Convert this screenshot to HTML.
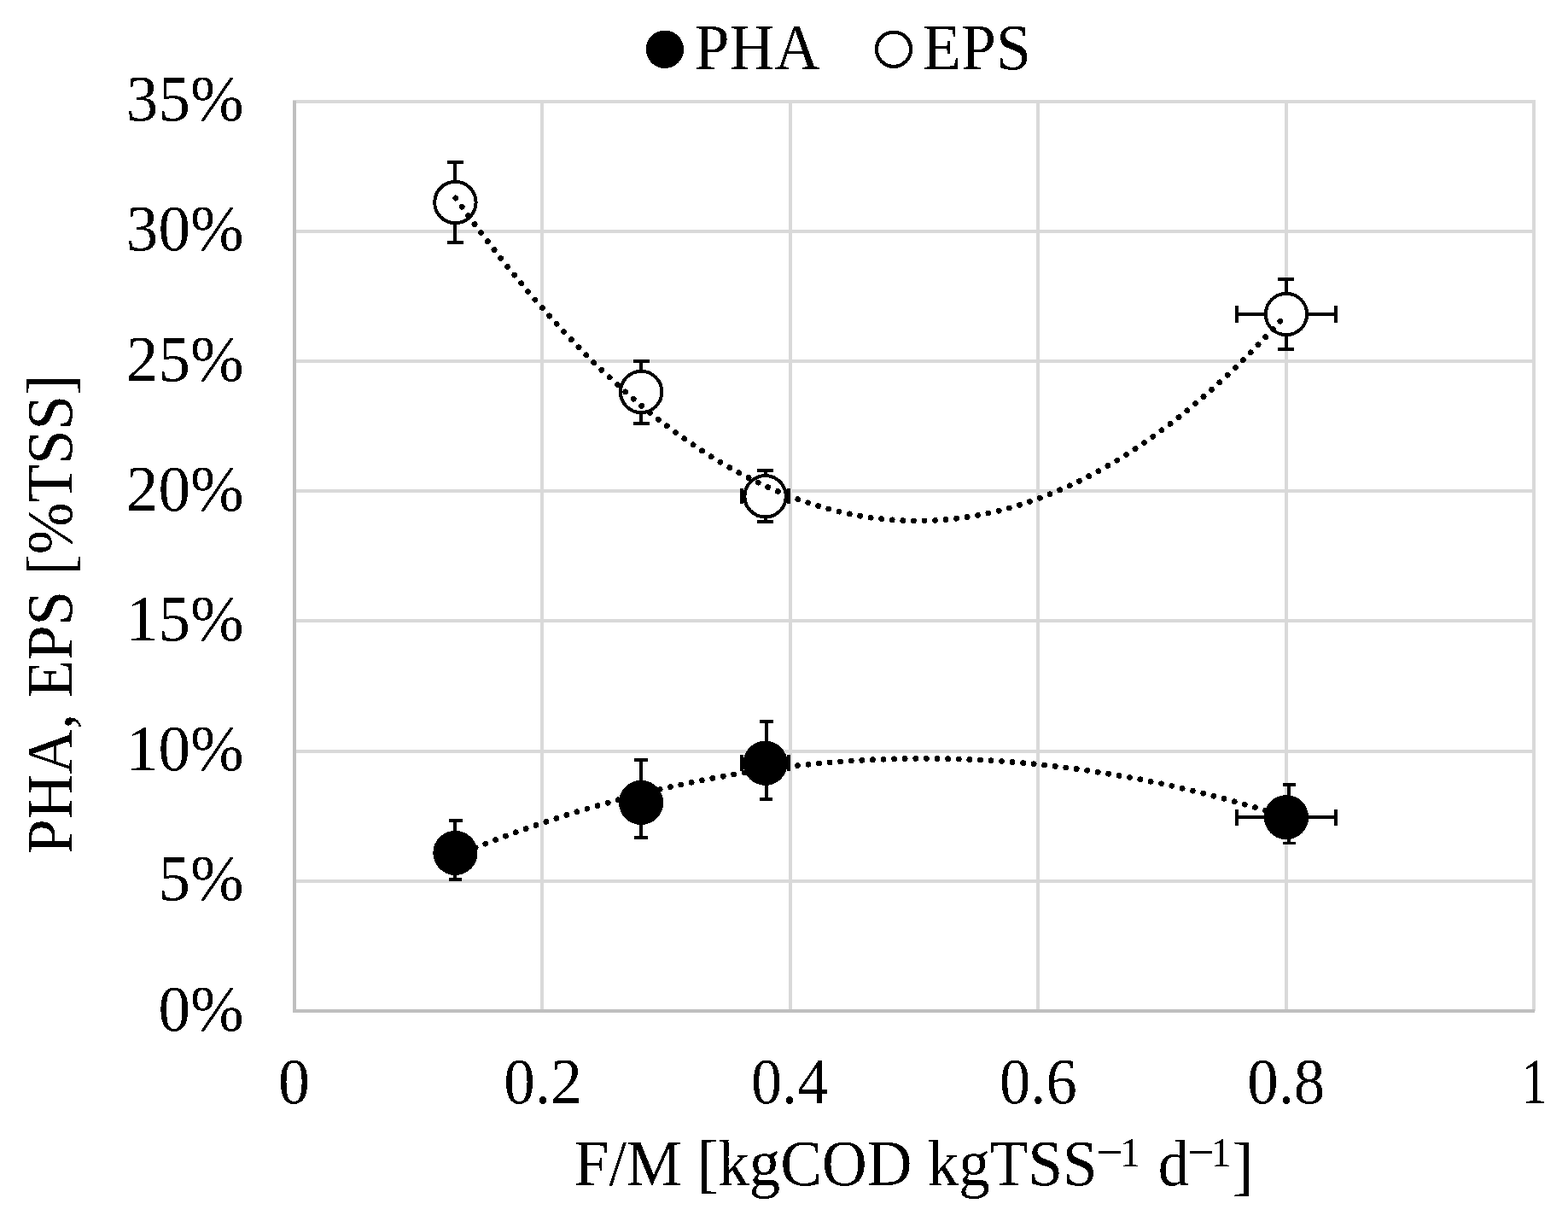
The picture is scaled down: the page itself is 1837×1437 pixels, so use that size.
<!DOCTYPE html>
<html lang="en"><head><meta charset="utf-8"><title>PHA, EPS vs F/M</title>
<style>html,body{margin:0;padding:0;background:#fff;}body{width:1837px;height:1437px;overflow:hidden;}svg{display:block;}text{font-family:"Liberation Serif","DejaVu Serif",serif;fill:#000;}</style>
</head><body>
<svg role="img" aria-label="PHA and EPS content versus F/M ratio" width="1837" height="1437" viewBox="0 0 1837 1437">
<rect x="0" y="0" width="1837" height="1437" fill="#fff"/>
<defs><filter id="crisp" filterUnits="userSpaceOnUse" x="0" y="0" width="1837" height="1437" color-interpolation-filters="sRGB"><feComponentTransfer><feFuncA type="discrete" tableValues="0 1"/></feComponentTransfer></filter></defs>
<path id="grid" d="M343 117H1799V121H343ZM343 269H1799V273H343ZM343 421H1799V425H343ZM343 573H1799V577H343ZM343 725H1799V729H343ZM343 878H1799V882H343ZM343 1030H1799V1034H343ZM633 117H637V1184H633ZM924 117H928V1184H924ZM1214 117H1218V1184H1214ZM1505 117H1509V1184H1505ZM1795 117H1799V1184H1795Z" fill="#D9D9D9" shape-rendering="crispEdges"/>
<path id="axes" d="M343 1182H1798V1186H343ZM343 118H347V1186H343Z" fill="#BFBFBF" shape-rendering="crispEdges"/>
<path d="M531 959H535V1032H531ZM526 959H542V963H526ZM526 1028H541V1032H526ZM749 888H753V983H749ZM743 888H759V892H743ZM743 979H759V983H743ZM896 843H900V938H896ZM890 843H906V847H890ZM890 934H905V938H890ZM867 891H926V895H867ZM867 884H871V903H867ZM922 884H926V903H922ZM1508 917H1512V989H1508ZM1503 917H1518V921H1503ZM1503 986H1518V989H1503ZM1447 955H1567V959H1447ZM1447 948H1451V967H1447ZM1563 948H1567V967H1563Z" fill="#000" stroke="none" shape-rendering="crispEdges"/>
<g fill="#000" stroke="none" shape-rendering="crispEdges">
<circle cx="533.40" cy="998.90" r="26.10"/>
<circle cx="751.10" cy="939.90" r="26.10"/>
<circle cx="896.60" cy="893.80" r="26.10"/>
<circle cx="1507.00" cy="957.20" r="26.10"/>
</g>
<path d="M531 188H535V286H531ZM524 188H543V192H524ZM524 282H543V286H524ZM749 421H753V498H749ZM742 421H761V425H742ZM742 494H761V498H742ZM895 549H899V613H895ZM887 549H906V553H887ZM887 609H906V613H887ZM867 579H926V583H867ZM867 572H871V590H867ZM922 572H926V590H922ZM1505 325H1509V411H1505ZM1497 325H1516V329H1497ZM1497 407H1516V411H1497ZM1447 366H1567V370H1447ZM1447 358H1451V378H1447ZM1563 358H1567V378H1563Z" fill="#000" stroke="none" shape-rendering="crispEdges"/>
<g fill="#fff" stroke="#000" stroke-width="4" shape-rendering="crispEdges">
<circle cx="533.40" cy="237.05" r="24.20"/>
<circle cx="751.10" cy="459.00" r="24.20"/>
<circle cx="896.60" cy="581.30" r="24.20"/>
<circle cx="1507.00" cy="368.00" r="24.20"/>
</g>
<path d="M533.76 1002.18 L541.87 998.84 L549.97 995.55 L558.08 992.30 L566.19 989.11 L574.30 985.97 L582.40 982.87 L590.51 979.83 L598.62 976.84 L606.72 973.89 L614.83 971.00 L622.94 968.16 L631.04 965.36 L639.15 962.62 L647.26 959.92 L655.37 957.28 L663.47 954.68 L671.58 952.14 L679.69 949.64 L687.79 947.19 L695.90 944.80 L704.01 942.45 L712.11 940.16 L720.22 937.91 L728.33 935.71 L736.43 933.57 L744.54 931.47 L752.65 929.42 L760.76 927.42 L768.86 925.48 L776.97 923.58 L785.08 921.73 L793.18 919.93 L801.29 918.18 L809.40 916.48 L817.51 914.84 L825.61 913.24 L833.72 911.69 L841.83 910.19 L849.93 908.74 L858.04 907.34 L866.15 905.99 L874.25 904.69 L882.36 903.44 L890.47 902.24 L898.58 901.09 L906.68 899.99 L914.79 898.94 L922.90 897.93 L931.00 896.98 L939.11 896.08 L947.22 895.23 L955.32 894.43 L963.43 893.68 L971.54 892.97 L979.64 892.32 L987.75 891.72 L995.86 891.17 L1003.97 890.66 L1012.07 890.21 L1020.18 889.81 L1028.29 889.45 L1036.39 889.15 L1044.50 888.89 L1052.61 888.69 L1060.72 888.54 L1068.82 888.43 L1076.93 888.38 L1085.04 888.37 L1093.14 888.42 L1101.25 888.51 L1109.36 888.66 L1117.46 888.85 L1125.57 889.09 L1133.68 889.39 L1141.79 889.73 L1149.89 890.13 L1158.00 890.57 L1166.11 891.06 L1174.21 891.60 L1182.32 892.20 L1190.43 892.84 L1198.53 893.53 L1206.64 894.28 L1214.75 895.07 L1222.86 895.91 L1230.96 896.80 L1239.07 897.74 L1247.18 898.73 L1255.28 899.78 L1263.39 900.87 L1271.50 902.01 L1279.60 903.20 L1287.71 904.44 L1295.82 905.73 L1303.93 907.07 L1312.03 908.46 L1320.14 909.90 L1328.25 911.39 L1336.35 912.93 L1344.46 914.52 L1352.57 916.15 L1360.67 917.84 L1368.78 919.58 L1376.89 921.37 L1385.00 923.21 L1393.10 925.10 L1401.21 927.03 L1409.32 929.02 L1417.42 931.06 L1425.53 933.15 L1433.64 935.28 L1441.74 937.47 L1449.85 939.71 L1457.96 941.99 L1466.07 944.33 L1474.17 946.72 L1482.28 949.15 L1490.39 951.64 L1498.49 954.17 L1506.60 956.76" fill="none" stroke="#000" stroke-width="6.8" stroke-linecap="round" stroke-dasharray="0.01 12.59" shape-rendering="crispEdges"/>
<path d="M533.76 232.01 L541.87 243.26 L549.97 254.34 L558.08 265.25 L566.19 275.98 L574.30 286.55 L582.40 296.95 L590.51 307.18 L598.62 317.23 L606.72 327.12 L614.83 336.84 L622.94 346.39 L631.04 355.77 L639.15 364.98 L647.26 374.01 L655.37 382.88 L663.47 391.58 L671.58 400.11 L679.69 408.47 L687.79 416.66 L695.90 424.68 L704.01 432.53 L712.11 440.21 L720.22 447.72 L728.33 455.06 L736.43 462.23 L744.54 469.23 L752.65 476.06 L760.76 482.72 L768.86 489.21 L776.97 495.53 L785.08 501.68 L793.18 507.66 L801.29 513.47 L809.40 519.12 L817.51 524.59 L825.61 529.89 L833.72 535.02 L841.83 539.98 L849.93 544.77 L858.04 549.40 L866.15 553.85 L874.25 558.13 L882.36 562.24 L890.47 566.19 L898.58 569.96 L906.68 573.56 L914.79 576.99 L922.90 580.26 L931.00 583.35 L939.11 586.27 L947.22 589.03 L955.32 591.61 L963.43 594.02 L971.54 596.27 L979.64 598.34 L987.75 600.25 L995.86 601.98 L1003.97 603.54 L1012.07 604.94 L1020.18 606.16 L1028.29 607.22 L1036.39 608.10 L1044.50 608.82 L1052.61 609.36 L1060.72 609.74 L1068.82 609.94 L1076.93 609.98 L1085.04 609.84 L1093.14 609.54 L1101.25 609.07 L1109.36 608.42 L1117.46 607.61 L1125.57 606.62 L1133.68 605.47 L1141.79 604.15 L1149.89 602.65 L1158.00 600.99 L1166.11 599.16 L1174.21 597.15 L1182.32 594.98 L1190.43 592.64 L1198.53 590.13 L1206.64 587.44 L1214.75 584.59 L1222.86 581.57 L1230.96 578.38 L1239.07 575.02 L1247.18 571.48 L1255.28 567.78 L1263.39 563.91 L1271.50 559.87 L1279.60 555.66 L1287.71 551.28 L1295.82 546.73 L1303.93 542.00 L1312.03 537.11 L1320.14 532.05 L1328.25 526.82 L1336.35 521.42 L1344.46 515.85 L1352.57 510.11 L1360.67 504.20 L1368.78 498.12 L1376.89 491.87 L1385.00 485.45 L1393.10 478.86 L1401.21 472.10 L1409.32 465.17 L1417.42 458.07 L1425.53 450.81 L1433.64 443.37 L1441.74 435.76 L1449.85 427.98 L1457.96 420.03 L1466.07 411.91 L1474.17 403.62 L1482.28 395.17 L1490.39 386.54 L1498.49 377.74 L1506.60 368.77" fill="none" stroke="#000" stroke-width="6.8" stroke-linecap="round" stroke-dasharray="0.01 12.59" shape-rendering="crispEdges"/>
<g id="labels" filter="url(#crisp)">
<g id="yticks">
<text transform="matrix(0.9930 0 0 1 285.70 141.20)" font-size="75.75px" text-anchor="end">35%</text>
<text transform="matrix(0.9930 0 0 1 285.70 293.00)" font-size="75.75px" text-anchor="end">30%</text>
<text transform="matrix(0.9930 0 0 1 285.70 446.10)" font-size="75.75px" text-anchor="end">25%</text>
<text transform="matrix(0.9930 0 0 1 285.70 598.10)" font-size="75.75px" text-anchor="end">20%</text>
<text transform="matrix(0.9930 0 0 1 285.70 750.10)" font-size="75.75px" text-anchor="end">15%</text>
<text transform="matrix(0.9930 0 0 1 285.70 902.20)" font-size="75.75px" text-anchor="end">10%</text>
<text transform="matrix(0.9930 0 0 1 285.70 1054.20)" font-size="75.75px" text-anchor="end">5%</text>
<text transform="matrix(0.9930 0 0 1 285.70 1207.20)" font-size="75.75px" text-anchor="end">0%</text>
</g>
<g id="xticks">
<text transform="matrix(0.9783 0 0 1 344.50 1292.05)" font-size="75.75px" text-anchor="middle">0</text>
<text transform="matrix(0.9680 0 0 1 636.02 1292.05)" font-size="75.75px" text-anchor="middle">0.2</text>
<text transform="matrix(0.9553 0 0 1 925.27 1292.05)" font-size="75.75px" text-anchor="middle">0.4</text>
<text transform="matrix(0.9576 0 0 1 1216.35 1292.05)" font-size="75.75px" text-anchor="middle">0.6</text>
<text transform="matrix(0.9618 0 0 1 1506.75 1292.05)" font-size="75.75px" text-anchor="middle">0.8</text>
<text transform="matrix(0.8000 0 0 1 1797.60 1292.05)" font-size="75.75px" text-anchor="middle">1</text>
</g>
<text id="xtitle" xml:space="preserve" transform="matrix(0.9702 0 0 1 672.80 1388.00)" font-size="75.30px"><tspan x="0" y="0">F/M [kgCOD kgTSS</tspan><tspan x="630.16" y="-18.55" font-size="58.00px">−</tspan><tspan x="658.75" y="-21.70" font-size="49.46px">1 </tspan><tspan x="705.06" y="0.00">d</tspan><tspan x="740.41" y="-18.80" font-size="57.78px">−</tspan><tspan x="768.86" y="-21.70" font-size="49.46px">1</tspan><tspan x="794.55" y="3.00">]</tspan></text>
<text id="ytitle" transform="matrix(0 -0.9690 1 0 84.00 999.98)" font-size="75.30px">PHA, EPS [%TSS]</text>
<g id="legend">
<circle cx="778.9" cy="57.75" r="22.2" fill="#000" shape-rendering="crispEdges"/>
<text transform="matrix(0.9750 0 0 1 813.77 80.77)" font-size="75.30px">PHA</text>
<circle cx="1047.0" cy="57.75" r="20.1" fill="#fff" stroke="#000" stroke-width="4.2" shape-rendering="crispEdges"/>
<text transform="matrix(0.9776 0 0 1 1081.05 80.77)" font-size="75.30px">EPS</text>
</g>
</g>
</svg>
</body></html>
